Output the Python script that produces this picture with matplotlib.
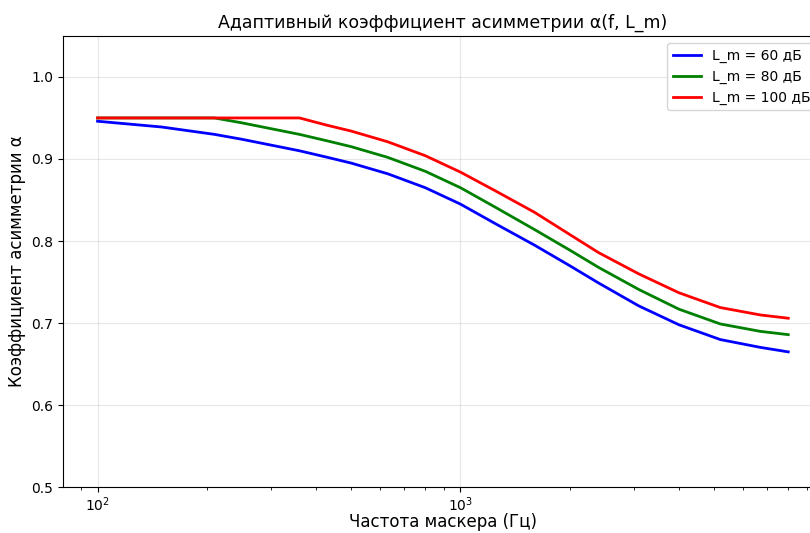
import matplotlib
matplotlib.use("Agg")
import matplotlib.pyplot as plt

freq = [100, 150, 210, 250, 300, 360, 430, 500, 630, 800, 1000, 1250,
        1600, 2000, 2400, 3100, 4000, 5200, 6700, 8000]
alpha_60 = [0.946, 0.939, 0.930, 0.924, 0.917, 0.910, 0.902, 0.895, 0.882,
            0.865, 0.845, 0.821, 0.795, 0.770, 0.749, 0.721, 0.698, 0.680,
            0.6705, 0.665]
alpha_80 = [0.950, 0.950, 0.950, 0.944, 0.937, 0.930, 0.922, 0.915, 0.902,
            0.885, 0.865, 0.841, 0.814, 0.789, 0.768, 0.741, 0.717, 0.699,
            0.690, 0.686]
alpha_100 = [0.950, 0.950, 0.950, 0.950, 0.950, 0.950, 0.941, 0.934, 0.921,
             0.904, 0.884, 0.861, 0.835, 0.808, 0.786, 0.760, 0.737, 0.719,
             0.710, 0.706]
labels = ["L_m = 60 дБ", "L_m = 80 дБ", "L_m = 100 дБ"]
colors = ["b", "g", "r"]

fig = plt.figure(figsize=(8.1, 5.33), dpi=100)
ax = fig.add_axes([0.0778, 0.0857, 0.938, 0.847])
for ys, lab, c in zip([alpha_60, alpha_80, alpha_100], labels, colors):
    ax.plot(freq, ys, color=c, linewidth=2, label=lab)
ax.set_xscale("log")
ax.set_ylim(0.5, 1.05)
ax.grid(True, alpha=0.3)
ax.set_title("Адаптивный коэффициент асимметрии α(f, L_m)", fontsize=12.5)
ax.set_xlabel("Частота маскера (Гц)", fontsize=12, labelpad=-1)
ax.set_ylabel("Коэффициент асимметрии α", fontsize=12)
ax.tick_params(labelsize=10)
ax.tick_params(axis="x", pad=2.5)
ax.legend(loc="upper right", fontsize=10)
fig.savefig("out.png", dpi=100)
